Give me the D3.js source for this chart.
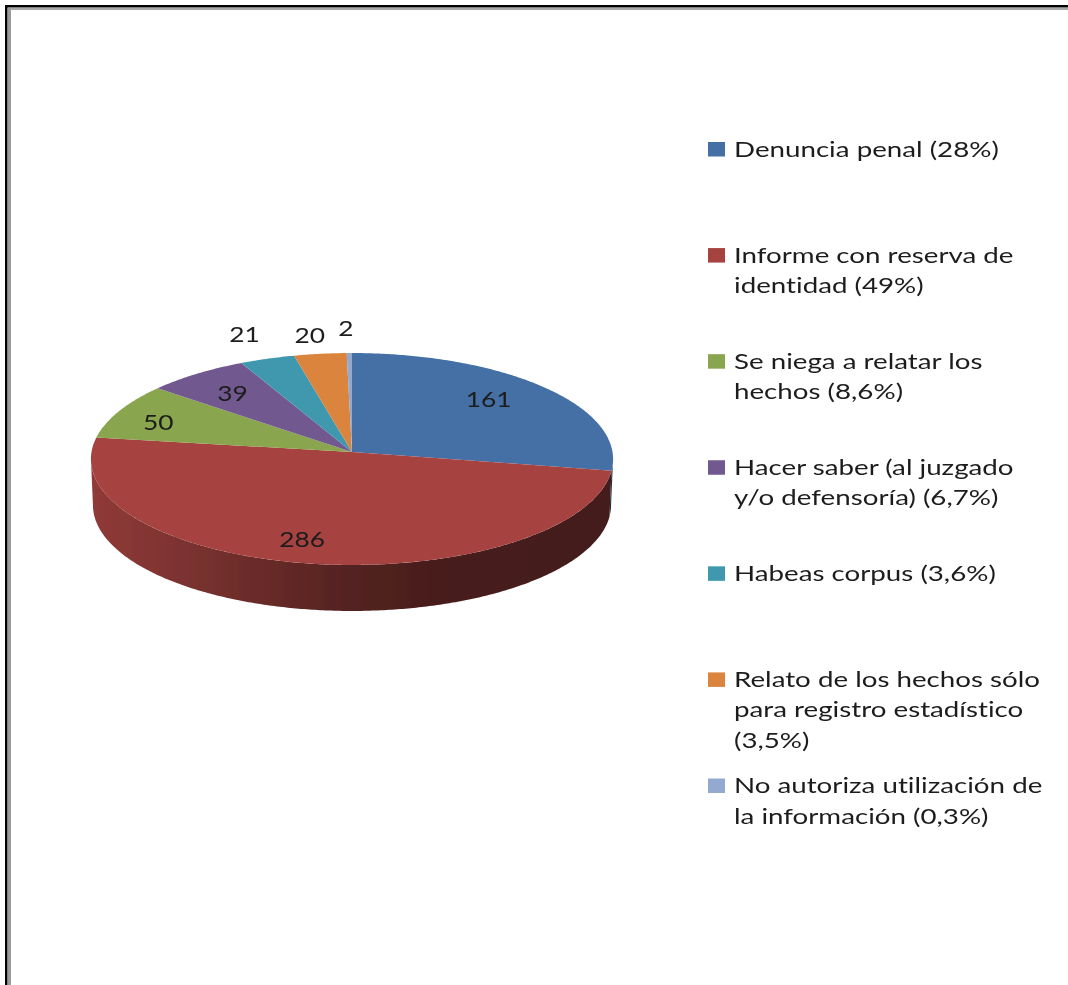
<!DOCTYPE html>
<html>
<head>
<meta charset="utf-8">
<script src="https://cdn.jsdelivr.net/npm/d3@7"></script>
<style>
  html, body { margin: 0; padding: 0; background: #fff; }
  svg { display: block; }
  text { font-family: Lato, "Open Sans", sans-serif; font-variant-ligatures: none; fill: #1c1c1c; }
</style>
</head>
<body>
<div id="chart"></div>
<script>
(function() {
    const categories = ["Denuncia penal", "Informe con reserva", "Se niega a relatar", "Hacer saber", "Habeas corpus", "Relato de los hechos", "No autoriza"];
    const values = [161, 286, 50, 39, 21, 20, 2];
    const colors = ["#4570a6", "#a64340", "#89a54e", "#71588f", "#4198af", "#db843d", "#93a9cf"];
    const legendLines = [
        ["Denuncia penal (28%)"],
        ["Informe con reserva de", "identidad (49%)"],
        ["Se niega a relatar los", "hechos (8,6%)"],
        ["Hacer saber (al juzgado", "y/o defensoría) (6,7%)"],
        ["Habeas corpus (3,6%)"],
        ["Relato de los hechos sólo", "para registro estadístico", "(3,5%)"],
        ["No autoriza utilización de", "la información (0,3%)"]
    ];

    const width = 1068, height = 985;
    const LEGEND_STRETCH = 1.26, VALUE_STRETCH = 1.195;

    // Perspectiva del disco: el centro del sector no cae en el centro de la elipse
    const top = {cx: 352, cy: 452, a: 260.5, b: 105.5, p: 0.066};
    const base = {cx: 352, cy: 498, a: 258.5, b: 105.5, p: 0.066};

    function project(disc, angle, r = 1) {
        const u = Math.sin(angle) * r, v = Math.cos(angle) * r;
        const k = 1 + disc.p * v;
        return [disc.cx + disc.a * u / k, disc.cy - disc.b * v / k];
    }

    function arcPoints(disc, a0, a1) {
        const n = Math.max(2, Math.ceil(Math.abs(a1 - a0) / 0.01));
        return d3.range(n + 1).map(i => project(disc, a0 + (a1 - a0) * i / n));
    }

    const line = d3.line();
    const pie = d3.pie().sort(null).value(d => d)(values);

    const svg = d3.select("#chart").append("svg")
        .attr("width", width)
        .attr("height", height);

    // Cadre
    const frame = svg.append("g");
    frame.append("rect").attr("x", 5).attr("y", 5).attr("width", width - 5).attr("height", 2.5).attr("fill", "#000");
    frame.append("rect").attr("x", 5).attr("y", 5).attr("width", 2.5).attr("height", height - 5).attr("fill", "#000");
    frame.append("rect").attr("x", 8).attr("y", 8).attr("width", width - 8).attr("height", 2).attr("fill", "#a8a8a8");
    frame.append("rect").attr("x", 8).attr("y", 8).attr("width", 3).attr("height", height - 8).attr("fill", "#9a9a9a");

    const defs = svg.append("defs");
    defs.append("filter").attr("id", "soft")
        .attr("x", "-5%").attr("y", "-5%").attr("width", "110%").attr("height", "110%")
        .append("feGaussianBlur").attr("stdDeviation", 0.45);

    // Dégradé du flanc: la lumière vient de la gauche
    const shade = d3.scaleLinear()
        .domain([0, 0.2, 0.5, 0.7, 1])
        .range([0.87, 0.73, 0.5, 0.43, 0.41]);

    pie.forEach((d, i) => {
        const grad = defs.append("linearGradient")
            .attr("id", `wall-${i}`)
            .attr("gradientUnits", "userSpaceOnUse")
            .attr("x1", top.cx - top.a).attr("x2", top.cx + top.a)
            .attr("y1", 0).attr("y2", 0);
        shade.domain().forEach(t => {
            const c = d3.rgb(colors[i]);
            const s = shade(t);
            grad.append("stop")
                .attr("offset", t)
                .attr("stop-color", d3.rgb(c.r * s, c.g * s, c.b * s).formatHex());
        });
    });

    const pieG = svg.append("g").attr("filter", "url(#soft)");

    // Flanc visible (moitié avant du disque)
    const frontStart = Math.PI / 2 + Math.asin(top.p);
    const frontEnd = 3 * Math.PI / 2 - Math.asin(top.p);

    pieG.selectAll(".wall")
        .data(pie.filter(d => d.endAngle > frontStart && d.startAngle < frontEnd))
        .join("path")
        .attr("class", "wall")
        .attr("fill", d => `url(#wall-${d.index})`)
        .attr("d", d => {
            const a0 = Math.max(d.startAngle, frontStart);
            const a1 = Math.min(d.endAngle, frontEnd);
            return line(arcPoints(top, a0, a1).concat(arcPoints(base, a1, a0))) + "Z";
        });

    // Face supérieure
    pieG.selectAll(".slice")
        .data(pie)
        .join("path")
        .attr("class", "slice")
        .attr("fill", d => colors[d.index])
        .attr("d", d => line([[top.cx, top.cy]].concat(arcPoints(top, d.startAngle, d.endAngle))) + "Z");

    // Etiquettes de valeurs: rayon puis petit décalage, comme "best fit" d'Excel
    const labelRadius = [0.72, 0.72, 0.72, 0.72, 1.15, 1.15, 1.15];
    const labelNudge = [[-3, -6], [-19, 8], [-25, -1], [-6, -3], [-11, -12], [-6, -6], [-3, -12]];

    const textG = svg.append("g").attr("filter", "url(#soft)");

    textG.selectAll(".value")
        .data(pie)
        .join("text")
        .attr("class", "value")
        .attr("text-anchor", "middle")
        .attr("dominant-baseline", "central")
        .style("font-size", "22px")
        .attr("transform", d => {
            const mid = (d.startAngle + d.endAngle) / 2;
            const [x, y] = project(top, mid, labelRadius[d.index]);
            const [dx, dy] = labelNudge[d.index];
            return `translate(${x + dx},${y + dy}) scale(${VALUE_STRETCH},1)`;
        })
        .text(d => d.data);

    // Légende
    const legendY = d3.scalePoint().domain(categories).range([149, 785.5]);

    const legend = textG.selectAll(".legend")
        .data(categories)
        .join("g")
        .attr("class", "legend")
        .attr("transform", d => `translate(708,${legendY(d)})`);

    legend.append("rect")
        .attr("y", -7)
        .attr("width", 17)
        .attr("height", 14.5)
        .attr("fill", (d, i) => colors[i]);

    legend.each(function(d, i) {
        d3.select(this).selectAll("text")
            .data(legendLines[i])
            .join("text")
            .style("font-size", "22px")
            .attr("transform", (t, j) => `translate(26,${7.5 + j * 30.5}) scale(${LEGEND_STRETCH},1)`)
            .text(t => t);
    });
})();
</script>
</body>
</html>
